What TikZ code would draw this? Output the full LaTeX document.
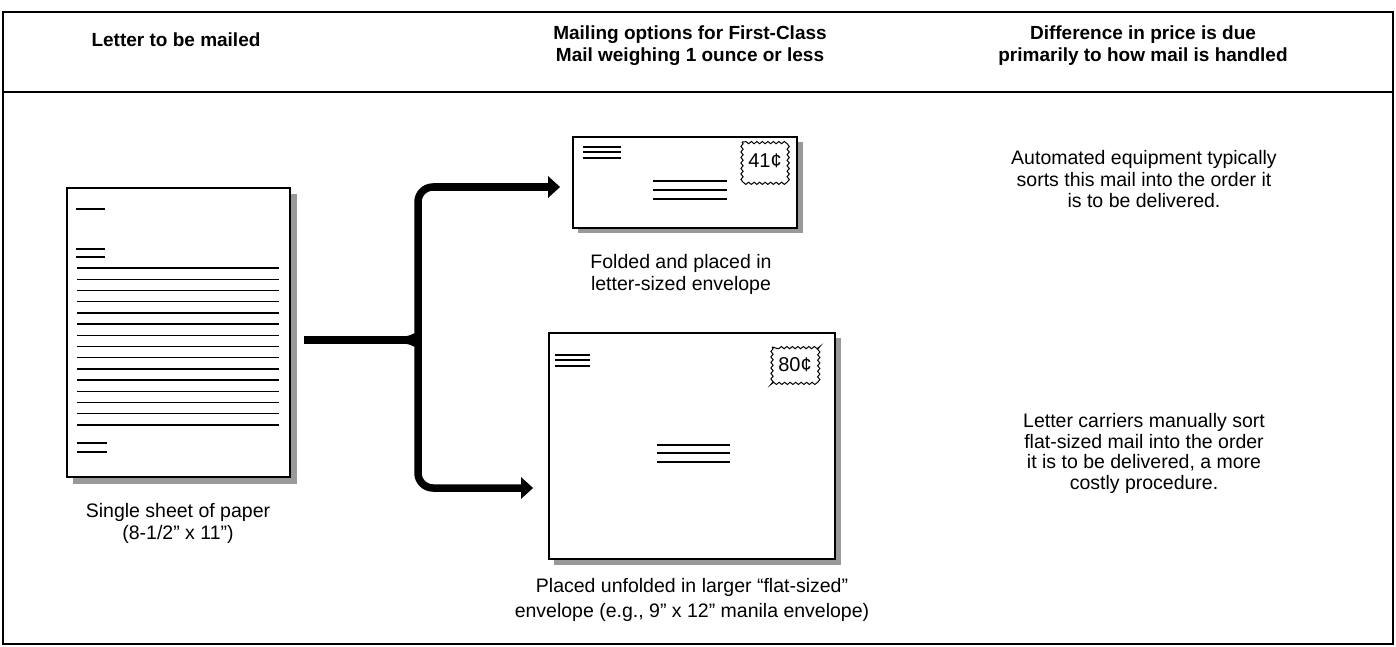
\documentclass[tikz,border=0pt]{standalone}
\usepackage{fontspec}
\setmainfont{Liberation Sans}
\usetikzlibrary{arrows.meta,decorations.pathmorphing}
\tikzset{
  txt/.style={font=\fontsize{19.5}{21.5}\selectfont, anchor=base, inner sep=0pt},
  hdr/.style={font=\bfseries\fontsize{19}{22}\selectfont, anchor=base, inner sep=0pt},
  paper/.style={draw=black, line width=1.8pt, fill=white},
  shadow/.style={fill=black!40},
  ink/.style={line width=1.4pt},
  stampbox/.style={draw, line width=1pt, decorate, decoration={snake, segment length=5.5pt, amplitude=1.1pt}},
  stamptext/.style={font=\fontsize{20}{20}\selectfont, inner sep=0pt},
  bigarrow/.style={line width=7.5pt, -{Triangle[length=12pt,width=21pt]}},
}
\begin{document}
\begin{tikzpicture}[x=1pt,y=-1pt]
\useasboundingbox (0,0) rectangle (1396,647);
% frame
\node[draw, line width=1.5pt, minimum width=1390pt, minimum height=632pt, inner sep=0pt] (frame) at (698,328) {};
\coordinate (hl) at (3,92);
\coordinate (hr) at (1393,92);
\draw[line width=1.8pt] (hl) -- (hr);
% headers
\node[hdr] (h1) at (176,47) {Letter to be mailed};
\node[hdr] (h2a) at (690,40) {Mailing options for First-Class};
\node[hdr] (h2b) at (690,62) {Mail weighing 1 ounce or less};
\node[hdr] (h3a) at (1143,40) {Difference in price is due};
\node[hdr] (h3b) at (1143,62) {primarily to how mail is handled};

% letter
\fill[shadow] (73,194) rectangle (297,484);
\node[paper, minimum width=223pt, minimum height=289pt, inner sep=0pt] (letter) at (178.5,332.5) {};
\draw[ink] (76,209) -- (105,209);
\draw[ink] (76,249) -- (105,249);
\draw[ink] (76,257) -- (105,257);
\foreach \i in {0,...,14} {
  \draw[ink] (77,268+11.2*\i) -- (279,268+11.2*\i);
}
\draw[ink] (77,443) -- (107,443);
\draw[ink] (77,452) -- (107,452);
\node[txt] (lc1) at (178,517) {Single sheet of paper};
\node[txt] (lc2) at (178,539) {(8-1/2” x 11”)};

% envelope 1
\fill[shadow] (578,142) rectangle (803,233);
\node[paper, minimum width=224pt, minimum height=91pt, inner sep=0pt] (env1) at (685,182.5) {};
\draw[ink] (583,147) -- (621,147);
\draw[ink] (583,152) -- (621,152);
\draw[ink] (583,158) -- (621,158);
\draw[ink] (653,181) -- (727,181);
\draw[ink] (653,190) -- (727,190);
\draw[ink] (653,199) -- (727,199);
\draw[stampbox] (742,142) rectangle (788,180);
\node[stamptext] (s1) at (765,161) {41¢};
\node[txt] (e1a) at (681,268) {Folded and placed in};
\node[txt] (e1b) at (681,290) {letter-sized envelope};

% envelope 2
\fill[shadow] (554,338) rectangle (841,565);
\node[paper, minimum width=286pt, minimum height=226pt, inner sep=0pt] (env2) at (692,446) {};
\draw[ink] (555,355) -- (590,355);
\draw[ink] (555,360) -- (590,360);
\draw[ink] (555,366) -- (590,366);
\draw[ink] (657,445) -- (730,445);
\draw[ink] (657,453) -- (730,453);
\draw[ink] (657,462) -- (730,462);
\draw[stampbox] (772,347) rectangle (818,383);
\node[stamptext] (s2) at (795,365) {80¢};
\node[txt] (e2a) at (692,592) {Placed unfolded in larger “flat-sized”};
\node[txt] (e2b) at (692,617) {envelope (e.g., 9” x 12” manila envelope)};

% right column
\node[txt] (r1a) at (1144,165) {Automated equipment typically};
\node[txt] (r1b) at (1144,186) {sorts this mail into the order it};
\node[txt] (r1c) at (1144,207) {is to be delivered.};
\node[txt] (r2a) at (1144,427) {Letter carriers manually sort};
\node[txt] (r2b) at (1144,448) {flat-sized mail into the order};
\node[txt] (r2c) at (1144,468) {it is to be delivered, a more};
\node[txt] (r2d) at (1144,489) {costly procedure.};

% arrows
\coordinate (start) at (letter.east |- 0,340);
\coordinate (junction) at (404,340);
\coordinate (t1) at (env1.west |- 0,187);
\coordinate (t2) at (env2.west |- 0,488);
\draw[line width=7.5pt] ([xshift=13pt]start) -- (junction);
\draw[bigarrow, rounded corners=15pt] (junction) .. controls (413,340) and (418,334) .. (418,322) -- (418,187) -- ([xshift=-12pt]t1);
\draw[bigarrow, rounded corners=15pt] (junction) .. controls (413,340) and (418,346) .. (418,358) -- (418,488) -- ([xshift=-15pt]t2);
\end{tikzpicture}
\end{document}
